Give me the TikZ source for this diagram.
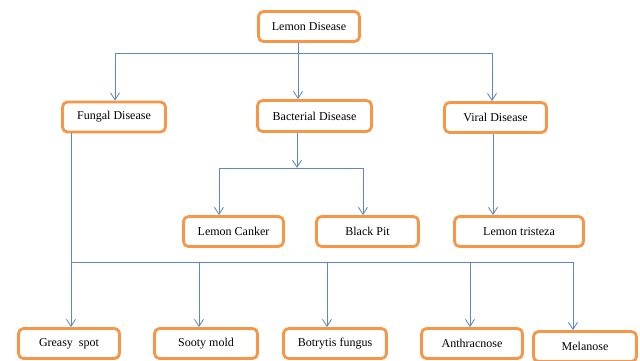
\documentclass[tikz,border=0pt]{standalone}
\usepackage{fontspec}
\setmainfont{Liberation Serif}
\usetikzlibrary{arrows.meta}
\definecolor{boxorange}{HTML}{F79646}
\definecolor{lineblue}{HTML}{5B87C5}
\begin{document}
\begin{tikzpicture}[x=1pt,y=-1pt,
  dbox/.style={draw=boxorange,line width=2.8pt,rounded corners=5pt,fill=white,
    minimum height=30pt,inner sep=0pt,font=\fontsize{12}{14}\selectfont},
  conn/.style={draw=lineblue,line width=0.85pt},
  arr/.style={conn,-{Straight Barb[length=7pt,width=9pt,line width=0.85pt]}}]
\useasboundingbox (0,0) rectangle (640,360);
% nodes
\node[dbox,minimum width=101pt] (lemon) at (309,26.5) {Lemon Disease};
\node[dbox,minimum width=103pt] (fungal) at (114,117) {Fungal Disease};
\node[dbox,minimum width=114pt,minimum height=31pt] (bact) at (314.5,116) {Bacterial Disease};
\node[dbox,minimum width=102pt] (viral) at (495.5,117.5) {Viral Disease};
\node[dbox,minimum width=100pt] (canker) at (233.5,231.5) {Lemon Canker};
\node[dbox,minimum width=102pt] (blackpit) at (367.5,231.5) {Black Pit};
\node[dbox,minimum width=129pt] (tristeza) at (519,231.5) {Lemon tristeza};
\node[dbox,minimum width=101pt] (greasy) at (69,343.5) {Greasy\ \ spot};
\node[dbox,minimum width=103pt] (sooty) at (206,343.5) {Sooty mold};
\node[dbox,minimum width=103pt] (botrytis) at (335,343.5) {Botrytis fungus};
\node[dbox,minimum width=101pt] (anthrac) at (472,343.5) {Anthracnose};
\node[dbox,minimum width=103pt] (melanose) at (585,346.5) {Melanose};
% junctions
\coordinate (jtop) at (298,53);
\coordinate (jbact) at (297,168);
\coordinate (jfung) at (71,262);
% top level
\draw[conn] (lemon.south -| jtop) -- (jtop);
\draw[conn] (115,53) -- (492,53);
\draw[arr] (115,53) -- (115,0 |- fungal.north);
\draw[arr] (jtop) -- (jtop |- bact.north);
\draw[arr] (492,53) -- (492,0 |- viral.north);
% bacterial
\draw[arr] (bact.south -| jbact) -- (jbact);
\draw[conn] (219,168) -- (363,168);
\draw[arr] (219,168) -- (219,0 |- canker.north);
\draw[arr] (363,168) -- (363,0 |- blackpit.north);
% viral
\draw[arr] (viral.south -| 493,0) -- (493,0 |- tristeza.north);
% fungal
\draw[conn] (fungal.south -| jfung) -- (jfung);
\draw[conn] (jfung) -- (573,262);
\draw[arr] (jfung) -- (jfung |- greasy.north);
\draw[arr] (199,262) -- (199,0 |- sooty.north);
\draw[arr] (327,262) -- (327,0 |- botrytis.north);
\draw[arr] (470,262) -- (470,0 |- anthrac.north);
\draw[arr] (573,262) -- (573,0 |- melanose.north);
\end{tikzpicture}
\end{document}
